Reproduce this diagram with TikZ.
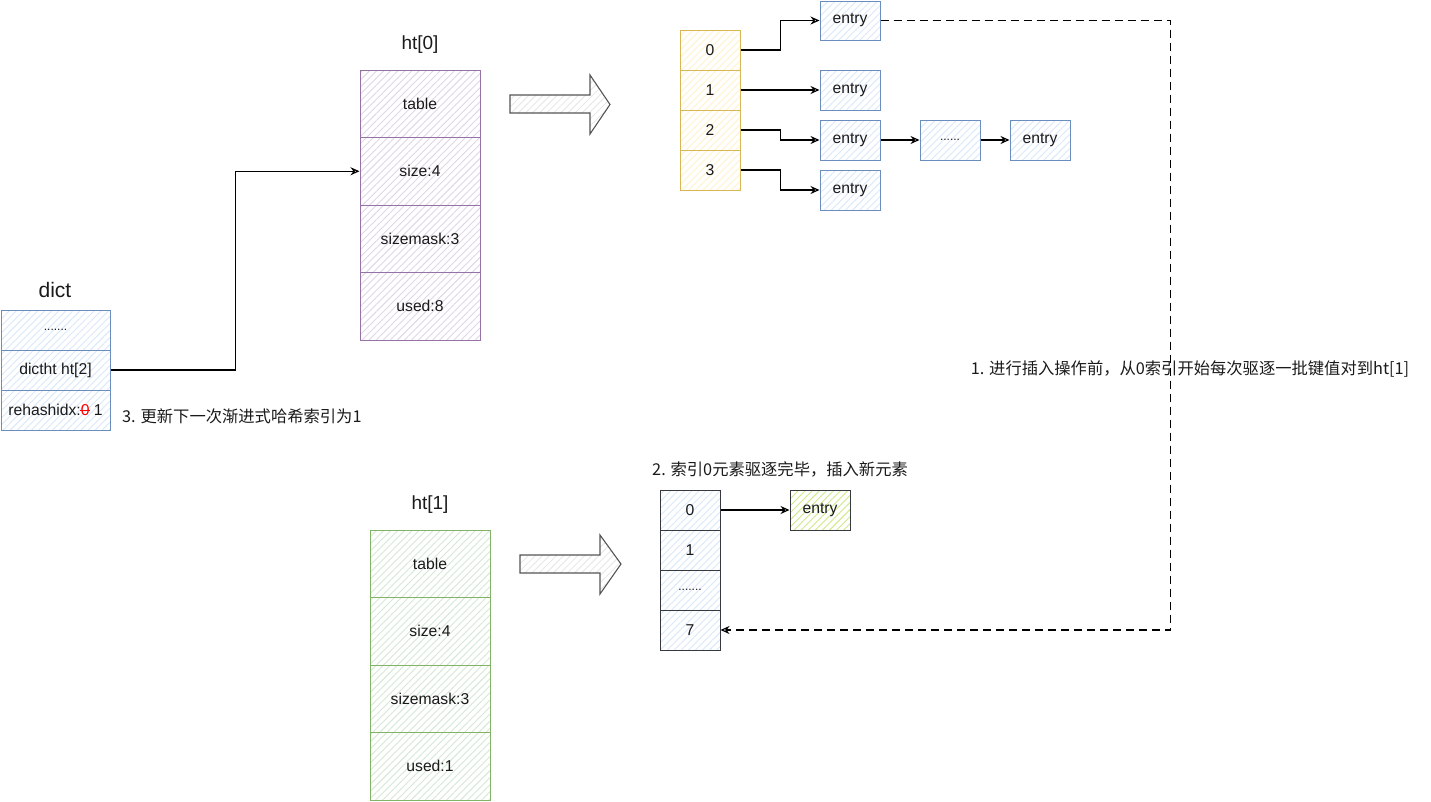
\documentclass[tikz,border=0pt]{standalone}
\usepackage{fontspec}
\setmainfont{Liberation Sans}
\newfontfamily\cjk{Noto Sans CJK SC}
\usetikzlibrary{arrows.meta,patterns.meta}
\definecolor{bstroke}{HTML}{6C8EBF}\definecolor{bfill}{HTML}{DAE8FC}
\definecolor{pstroke}{HTML}{9673A6}\definecolor{pfill}{HTML}{E1D5E7}
\definecolor{ystroke}{HTML}{D6B656}\definecolor{yfill}{HTML}{FFF2CC}
\definecolor{gstroke}{HTML}{82B366}\definecolor{gfill}{HTML}{D5E8D4}
\definecolor{dstroke}{HTML}{36393D}\definecolor{lfill}{HTML}{CDEB8B}
\definecolor{astroke}{HTML}{555555}\definecolor{afill}{HTML}{E6E6E6}
\definecolor{txt}{HTML}{1A1A1A}
\newcommand{\cellfont}{\fontsize{15.7}{18}\selectfont}
\newcommand{\redstrike}{{\color{red}\ooalign{0\cr\hidewidth\rule[0.32em]{0.62em}{0.7pt}\hidewidth}}}
\tikzset{
  cellbox/.style={inner sep=0pt, font=\cellfont, text=txt, line width=1pt},
  hatch/.style 2 args={cellbox, draw=#1, preaction={fill=white},
     preaction={pattern={Lines[angle=45,distance=5pt,line width=0.9pt]}, pattern color=#2}},
  bluecell/.style={hatch={bstroke}{bfill}},
  purplecell/.style={hatch={pstroke}{pfill}, minimum width=120pt, minimum height=67.5pt},
  greencell/.style={hatch={gstroke}{gfill}, minimum width=120pt, minimum height=67.5pt},
  yellowcell/.style={hatch={ystroke}{yfill}, minimum width=60pt, minimum height=40pt},
  darkcell/.style={hatch={dstroke}{bfill}, minimum width=60pt, minimum height=40pt},
  entrybox/.style={bluecell, minimum width=60pt, minimum height=40pt},
  dictcell/.style={bluecell, minimum width=109pt, minimum height=40pt},
  arr/.style={-{Stealth[open,length=9pt,width=8pt]}, line width=1.2pt, draw=black},
  dasharr/.style={-{Stealth[open,length=9pt,width=8pt]}, line width=1.1pt, draw=black, dash pattern=on 8pt off 5pt},
  blockarrow/.style={draw=astroke, line width=1.1pt, preaction={fill=white},
     preaction={pattern={Lines[angle=45,distance=5pt,line width=0.8pt]}, pattern color=afill}},
  title/.style={font=\fontsize{19}{22}\selectfont, text=txt},
  note/.style={font=\cjk\fontsize{16.3}{20}\selectfont, text=txt, inner sep=0pt}
}
\begin{document}
\begin{tikzpicture}[x=1pt,y=-1pt]
\useasboundingbox (0,0) rectangle (1431,801);
% dict
\node[title, font=\fontsize{21}{24}\selectfont] (dictlbl) at (55,290) {dict};
\node[dictcell] (d1) at (55.5,330) {\fontsize{12}{14}\selectfont .......};
\node[dictcell] (d2) at (55.5,370) {dictht ht[2]};
\node[dictcell] (d3) at (55.5,410) {rehashidx:\redstrike\ 1};
\node[note, anchor=west] (n3) at (122,416) {3. 更新下一次渐进式哈希索引为1};
% ht[0]
\node[title] (h0lbl) at (420,45) {ht[0]};
\node[purplecell] (h0a) at (420,103.75) {table};
\node[purplecell] (h0b) at (420,171.25) {size:4};
\node[purplecell] (h0c) at (420,238.75) {sizemask:3};
\node[purplecell] (h0d) at (420,306.25) {used:8};
% ht[1]
\node[title] (h1lbl) at (430,505) {ht[1]};
\node[greencell] (h1a) at (430,563.75) {table};
\node[greencell] (h1b) at (430,631.25) {size:4};
\node[greencell] (h1c) at (430,698.75) {sizemask:3};
\node[greencell] (h1d) at (430,766.25) {used:1};
% block arrows
\path[blockarrow] (510,95) -- (590,95) -- (590,75) -- (610,104.5) -- (590,134) -- (590,113) -- (510,113) -- cycle;
\path[blockarrow] (520,555) -- (600,555) -- (600,535) -- (621,564) -- (600,594) -- (600,573) -- (520,573) -- cycle;
% yellow table
\node[yellowcell] (y0) at (710,50) {0};
\node[yellowcell] (y1) at (710,90) {1};
\node[yellowcell] (y2) at (710,130) {2};
\node[yellowcell] (y3) at (710,170) {3};
% entries
\node[entrybox, minimum height=39pt] (e0) at (850,20.5) {entry};
\node[entrybox] (e1) at (850,90) {entry};
\node[entrybox] (e2) at (850,140) {entry};
\node[entrybox] (edots) at (950,140) {\fontsize{12}{14}\selectfont ......};
\node[entrybox] (e2b) at (1040,140) {entry};
\node[entrybox] (e3) at (850,190) {entry};
% ht[1] table
\node[darkcell] (b0) at (690,510) {0};
\node[darkcell] (b1) at (690,550) {1};
\node[darkcell] (b2) at (690,590) {\fontsize{12}{14}\selectfont .......};
\node[darkcell] (b7) at (690,630) {7};
\node[hatch={dstroke}{lfill}, minimum width=60pt, minimum height=40pt] (ge) at (820,510) {entry};
\node[note, anchor=west] (n2) at (652,469) {2. 索引0元素驱逐完毕，插入新元素};
% connectors
\draw[arr] (d2.east) -- ++(125,0) |- (h0b.west);
\draw[arr] (y0.east) -- ++(40,0) |- (e0.west);
\draw[arr] (y1.east) -- (e1.west);
\draw[arr] (y2.east) -- ++(40,0) |- (e2.west);
\draw[arr] (y3.east) -- ++(40,0) |- (e3.west);
\draw[arr] (e2.east) -- (edots.west);
\draw[arr] (edots.east) -- (e2b.west);
\draw[arr] (b0.east) -- (ge.west);
\draw[dasharr] (e0.east) -- ++(290,0) |- (b7.east);
\node[note] (n1) at (1190,369) {1. 进行插入操作前，从0索引开始每次驱逐一批键值对到ht[1]};
\end{tikzpicture}
\end{document}
